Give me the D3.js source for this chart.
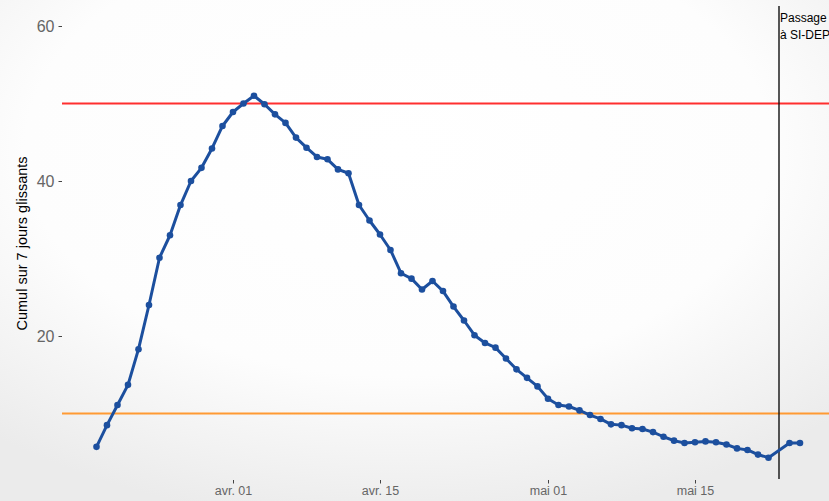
<!DOCTYPE html>
<html>
<head>
<meta charset="utf-8">
<script src="https://cdn.jsdelivr.net/npm/d3@7"></script>
<style>
  html, body { margin: 0; padding: 0; overflow: hidden; }
  svg { display: block; font-family: "Liberation Sans", Arial, sans-serif; }
</style>
</head>
<body>
<svg id="chart" width="829" height="501"></svg>
<script>
// dates (2020) and 7-day rolling sum, May 23 missing
const dates = [
  '2020-03-19','2020-03-20','2020-03-21','2020-03-22','2020-03-23','2020-03-24','2020-03-25',
  '2020-03-26','2020-03-27','2020-03-28','2020-03-29','2020-03-30','2020-03-31','2020-04-01',
  '2020-04-02','2020-04-03','2020-04-04','2020-04-05','2020-04-06','2020-04-07','2020-04-08',
  '2020-04-09','2020-04-10','2020-04-11','2020-04-12','2020-04-13','2020-04-14','2020-04-15',
  '2020-04-16','2020-04-17','2020-04-18','2020-04-19','2020-04-20','2020-04-21','2020-04-22',
  '2020-04-23','2020-04-24','2020-04-25','2020-04-26','2020-04-27','2020-04-28','2020-04-29',
  '2020-04-30','2020-05-01','2020-05-02','2020-05-03','2020-05-04','2020-05-05','2020-05-06',
  '2020-05-07','2020-05-08','2020-05-09','2020-05-10','2020-05-11','2020-05-12','2020-05-13',
  '2020-05-14','2020-05-15','2020-05-16','2020-05-17','2020-05-18','2020-05-19','2020-05-20',
  '2020-05-21','2020-05-22','2020-05-24','2020-05-25'
];
const cumul = [
  5.7, 8.5, 11.1, 13.7, 18.3, 24.0, 30.1,
  33.0, 36.9, 40.0, 41.7, 44.2, 47.1, 48.9,
  50.0, 51.0, 49.9, 48.6, 47.5, 45.6, 44.3,
  43.1, 42.8, 41.5, 41.0, 36.9, 34.9, 33.1,
  31.1, 28.1, 27.4, 26.0, 27.1, 25.8, 23.8,
  22.0, 20.1, 19.1, 18.5, 17.1, 15.7, 14.6,
  13.5, 11.9, 11.1, 10.9, 10.4, 9.8, 9.3,
  8.6, 8.5, 8.1, 8.0, 7.6, 7.0, 6.5,
  6.2, 6.3, 6.4, 6.3, 6.0, 5.5, 5.3,
  4.7, 4.3, 6.2, 6.2
];
const xTicks = ['2020-04-01', '2020-04-15', '2020-05-01', '2020-05-15'];
const yTicks = [20, 40, 60];
const seuils = [50, 10];
const seuilColors = ['#ff2f2f', '#ff9a33'];
const passageDate = '2020-05-23';
const passageLabel = ['Passage', 'à SI-DEP'];

const parse = d3.utcParse('%Y-%m-%d');
const fmtFr = d => (d.getUTCMonth() === 3 ? 'avr. ' : 'mai ') + d3.utcFormat('%d')(d);
const data = dates.map((d, i) => ({ date: parse(d), value: cumul[i] }));

const svg = d3.select('#chart');
const W = 829, H = 501;
const mLeft = 62, mTop = 6, mBottom = 479;

// background vignette
const defs = svg.append('defs');
const grad = defs.append('radialGradient').attr('id', 'bg')
  .attr('cx', '48%').attr('cy', '30%').attr('r', '75%');
grad.append('stop').attr('offset', '0%').attr('stop-color', '#ffffff');
grad.append('stop').attr('offset', '60%').attr('stop-color', '#fdfdfd');
grad.append('stop').attr('offset', '100%').attr('stop-color', '#ebebeb');
svg.append('rect').attr('width', W).attr('height', H).attr('fill', 'url(#bg)');

const x = d3.scaleUtc()
  .domain([parse('2020-04-01'), parse('2020-05-15')])
  .range([233, 695]);
const y = d3.scaleLinear().domain([0, 60]).range([491, 26]);

// y axis
const yAxis = svg.append('g').attr('transform', `translate(${mLeft},0)`)
  .call(d3.axisLeft(y).tickValues(yTicks).tickSize(3.5).tickPadding(4));
yAxis.select('.domain').remove();
yAxis.selectAll('line').attr('stroke', '#444').attr('stroke-width', 1);
yAxis.selectAll('text').attr('fill', '#666').style('font-size', '16px');

// x axis
const xAxis = svg.append('g').attr('transform', `translate(0,${mBottom + 1})`)
  .call(d3.axisBottom(x).tickValues(xTicks.map(parse)).tickFormat(fmtFr).tickSize(3.5).tickPadding(3));
xAxis.select('.domain').remove();
xAxis.selectAll('line').attr('stroke', '#444').attr('stroke-width', 1);
xAxis.selectAll('text').attr('fill', '#666').style('font-size', '12.5px');

// y title
svg.append('text')
  .attr('transform', `translate(27,${(mTop + mBottom) / 2 + 1}) rotate(-90)`)
  .attr('text-anchor', 'middle')
  .style('font-size', '14.5px')
  .attr('fill', '#000')
  .text('Cumul sur 7 jours glissants');

// threshold lines
seuils.forEach((s, i) => {
  svg.append('line')
    .attr('x1', mLeft).attr('x2', W)
    .attr('y1', y(s)).attr('y2', y(s))
    .attr('stroke', seuilColors[i]).attr('stroke-width', 1.8);
});

// SI-DEP marker
const xp = x(parse(passageDate));
svg.append('line')
  .attr('x1', xp).attr('x2', xp)
  .attr('y1', mTop).attr('y2', mBottom)
  .attr('stroke', '#111').attr('stroke-width', 1.4);
const lab = svg.append('text')
  .attr('x', xp + 1).attr('y', 22)
  .style('font-size', '12px').attr('fill', '#000');
passageLabel.forEach((t, i) => {
  lab.append('tspan').attr('x', xp + 1).attr('dy', i === 0 ? 0 : 16.5).text(t);
});

// data line + points
const line = d3.line().x(d => x(d.date)).y(d => y(d.value));
svg.append('path').datum(data)
  .attr('d', line)
  .attr('fill', 'none')
  .attr('stroke', '#1c4f9e')
  .attr('stroke-width', 3)
  .attr('stroke-linejoin', 'round');
svg.selectAll('circle.pt').data(data).join('circle')
  .attr('class', 'pt')
  .attr('cx', d => x(d.date))
  .attr('cy', d => y(d.value))
  .attr('r', 3.3)
  .attr('fill', '#1c4f9e');
</script>
</body>
</html>
